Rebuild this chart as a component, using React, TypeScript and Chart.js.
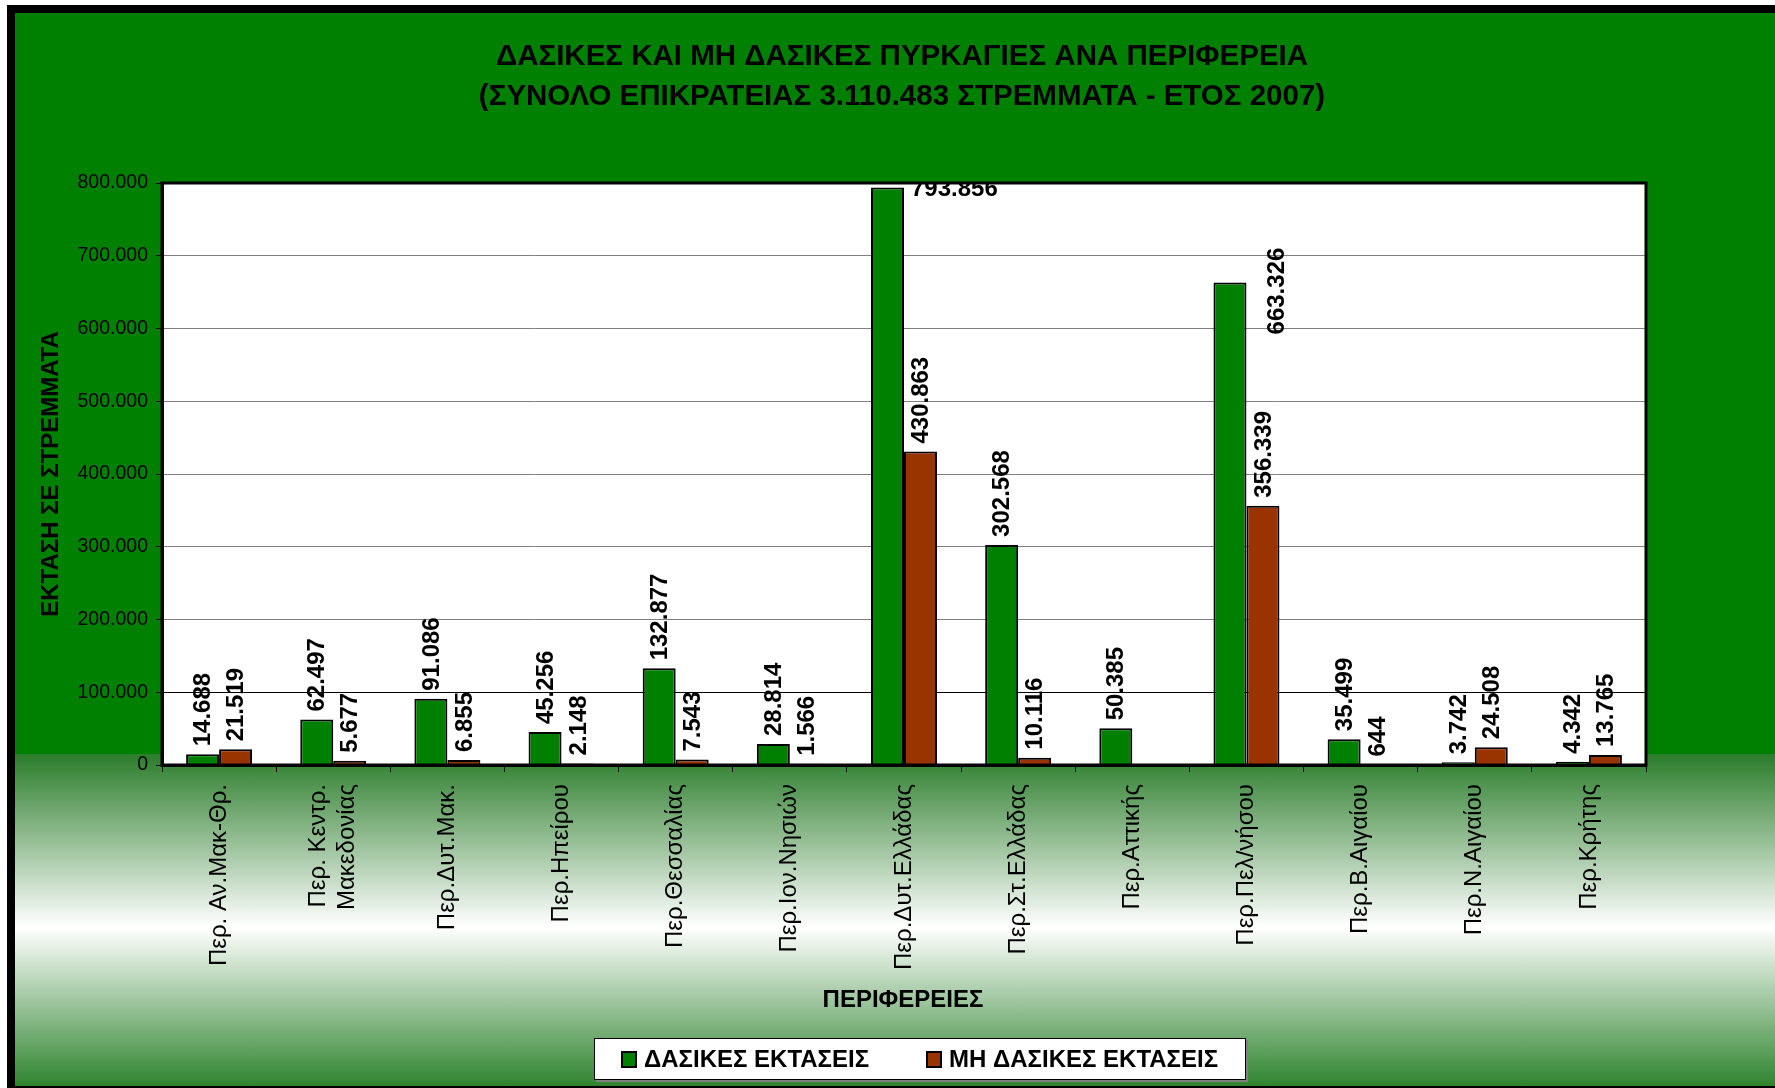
import React, { useEffect, useRef } from 'react';
import { Chart, registerables } from 'chart.js';

Chart.register(...registerables);

const categories: (string | string[])[] = [
  'Περ. Αν.Μακ-Θρ.',
  ['Περ. Κεντρ.', 'Μακεδονίας'],
  'Περ.Δυτ.Μακ.',
  'Περ.Ηπείρου',
  'Περ.Θεσσαλίας',
  'Περ.Ιον.Νησιών',
  'Περ.Δυτ.Ελλάδας',
  'Περ.Στ.Ελλάδας',
  'Περ.Αττικής',
  'Περ.Πελ/νήσου',
  'Περ.Β.Αιγαίου',
  'Περ.Ν.Αιγαίου',
  'Περ.Κρήτης',
];

const forestValues: (number | null)[] = [
  14688, 62497, 91086, 45256, 132877, 28814, 793856, 302568, 50385, 663326, 35499, 3742, 4342,
];
const nonForestValues: (number | null)[] = [
  21519, 5677, 6855, 2148, 7543, 1566, 430863, 10116, null, 356339, 644, 24508, 13765,
];

const seriesNames = ['ΔΑΣΙΚΕΣ ΕΚΤΑΣΕΙΣ', 'ΜΗ ΔΑΣΙΚΕΣ ΕΚΤΑΣΕΙΣ'];
const titleLines = [
  'ΔΑΣΙΚΕΣ ΚΑΙ ΜΗ ΔΑΣΙΚΕΣ ΠΥΡΚΑΓΙΕΣ ΑΝΑ ΠΕΡΙΦΕΡΕΙΑ',
  '(ΣΥΝΟΛΟ ΕΠΙΚΡΑΤΕΙΑΣ 3.110.483 ΣΤΡΕΜΜΑΤΑ - ΕΤΟΣ 2007)',
];
const yAxisTitle = 'ΕΚΤΑΣΗ ΣΕ ΣΤΡΕΜΜΑΤΑ';
const xAxisTitle = 'ΠΕΡΙΦΕΡΕΙΕΣ';
const yMin = 0;
const yMax = 800000;
const yStep = 100000;

const GREEN = '#008000';
const RED = '#993300';
const FONT = '"Liberation Sans", Arial, sans-serif';

const W = 1772;
const H = 1073;

const fmt = (v: number) => String(Math.round(v)).replace(/\B(?=(\d{3})+(?!\d))/g, '.');

// label placement exceptions (style only)
const labelOverrides: Record<string, { mode: 'h' | 'v'; dx: number; dy: number }> = {
  '0-6': { mode: 'h', dx: 7, dy: 2 },
  '0-9': { mode: 'v', dx: 46, dy: 52 },
};

const decorPlugin = {
  id: 'decor',
  beforeDraw(chart: any) {
    const { ctx, chartArea: a } = chart;
    ctx.save();
    ctx.fillStyle = '#ffffff';
    ctx.fillRect(a.left, a.top, a.right - a.left, a.bottom - a.top);
    ctx.restore();
    // center multi-line x labels on their ticks
    try {
      const sx = chart.scales.x;
      const items = sx.getLabelItems(chart.chartArea);
      items.forEach((it: any) => {
        if (Array.isArray(it.label) && it.label.length > 1 && !it._centered) {
          const lh = it.font.lineHeight;
          it.options.translation[0] -= ((it.label.length - 1) * lh) / 2;
          it._centered = true;
        }
      });
    } catch (e) {
      /* ignore */
    }
  },
  afterDatasetsDraw(chart: any) {
    const { ctx, chartArea: a } = chart;
    ctx.save();
    ctx.beginPath();
    ctx.rect(a.left, a.top, a.right - a.left, a.bottom - a.top);
    ctx.clip();
    ctx.font = `bold 24px ${FONT}`;
    ctx.fillStyle = '#000';
    chart.data.datasets.forEach((ds: any, di: number) => {
      const meta = chart.getDatasetMeta(di);
      meta.data.forEach((el: any, i: number) => {
        const v = ds.data[i];
        if (v === null || v === undefined) return;
        const text = fmt(v);
        const ov = labelOverrides[`${di}-${i}`];
        ctx.save();
        if (ov && ov.mode === 'h') {
          ctx.textAlign = 'left';
          ctx.textBaseline = 'middle';
          ctx.fillText(text, el.x + el.width / 2 + ov.dx, el.y + ov.dy);
        } else {
          const dx = ov ? ov.dx : 0;
          const dy = ov ? ov.dy : -8;
          ctx.translate(el.x + dx, el.y + dy);
          ctx.rotate(-Math.PI / 2);
          ctx.textAlign = 'left';
          ctx.textBaseline = 'middle';
          ctx.fillText(text, 0, 1);
        }
        ctx.restore();
      });
    });
    ctx.restore();
  },
  afterDraw(chart: any) {
    const { ctx, chartArea: a } = chart;
    ctx.save();
    // plot frame
    ctx.strokeStyle = '#000';
    ctx.lineWidth = 3;
    ctx.strokeRect(a.left, a.top, a.right - a.left, a.bottom - a.top);

    // title
    ctx.fillStyle = '#000';
    ctx.textAlign = 'center';
    ctx.textBaseline = 'middle';
    ctx.font = `bold 29.5px ${FONT}`;
    ctx.fillText(titleLines[0], 887, 44);
    ctx.fillText(titleLines[1], 887, 84);

    // axis titles
    ctx.font = `bold 24px ${FONT}`;
    ctx.fillText(xAxisTitle, 888, 987);
    ctx.save();
    ctx.translate(36, (a.top + a.bottom) / 2);
    ctx.rotate(-Math.PI / 2);
    ctx.fillText(yAxisTitle, 0, 0);
    ctx.restore();

    // legend
    const lx = 579, ly = 1025, lw = 652, lh = 42;
    ctx.fillStyle = '#808080';
    ctx.fillRect(lx + 2, ly + 2, lw, lh);
    ctx.fillStyle = '#ffffff';
    ctx.fillRect(lx, ly, lw, lh);
    ctx.strokeStyle = '#000';
    ctx.lineWidth = 1;
    ctx.strokeRect(lx + 0.5, ly + 0.5, lw - 1, lh - 1);
    ctx.font = `bold 24px ${FONT}`;
    ctx.textAlign = 'left';
    ctx.textBaseline = 'middle';
    const items = [
      { x: 607, color: GREEN, label: seriesNames[0] },
      { x: 912, color: RED, label: seriesNames[1] },
    ];
    items.forEach((it) => {
      ctx.fillStyle = it.color;
      ctx.fillRect(it.x, 1039, 14, 15);
      ctx.strokeStyle = '#000';
      ctx.lineWidth = 2;
      ctx.strokeRect(it.x, 1039, 14, 15);
      ctx.fillStyle = '#000';
      ctx.fillText(it.label, it.x + 22, 1047);
    });
    ctx.restore();
  },
};

export default function App() {
  const ref = useRef<HTMLCanvasElement>(null);

  useEffect(() => {
    const canvas = ref.current;
    if (!canvas) return;
    const chart = new Chart(canvas, {
      type: 'bar',
      data: {
        labels: categories as any,
        datasets: [
          {
            label: seriesNames[0],
            data: forestValues,
            backgroundColor: GREEN,
            borderColor: '#000',
            borderWidth: 2,
            barPercentage: 1,
            categoryPercentage: 0.578,
          },
          {
            label: seriesNames[1],
            data: nonForestValues,
            backgroundColor: RED,
            borderColor: '#000',
            borderWidth: 2,
            barPercentage: 1,
            categoryPercentage: 0.578,
          },
        ],
      },
      options: {
        responsive: false,
        animation: false,
        devicePixelRatio: 1,
        layout: { padding: { left: 27, top: 170, right: 141, bottom: 61 } },
        plugins: {
          legend: { display: false },
          title: { display: false },
          tooltip: { enabled: false },
        },
        scales: {
          x: {
            grid: {
              display: true,
              drawOnChartArea: false,
              drawTicks: true,
              tickLength: 7,
              tickColor: '#000',
              color: '#000',
              offset: true,
            },
            border: { display: true, color: '#000', width: 3 },
            ticks: {
              color: '#000',
              font: { family: FONT, size: 24, lineHeight: 1.2 },
              maxRotation: 90,
              minRotation: 90,
              autoSkip: false,
              padding: 12,
            },
            afterFit: (s: any) => {
              s.height = 260;
            },
          },
          y: {
            min: yMin,
            max: yMax,
            grid: {
              color: (c: any) => (c.tick && c.tick.value === 100000 ? '#000' : '#808080'),
              lineWidth: 1,
              tickLength: 6,
              tickColor: '#000',
              drawTicks: true,
            },
            border: { display: true, color: '#000', width: 3 },
            ticks: {
              stepSize: yStep,
              color: '#000',
              font: { family: FONT, size: 19.5 },
              padding: 8,
              callback: (v: any) => fmt(Number(v)),
            },
            afterFit: (s: any) => {
              s.width = 120;
            },
          },
        },
      },
      plugins: [decorPlugin],
    } as any);
    return () => chart.destroy();
  }, []);

  return (
    <div
      style={{
        position: 'fixed',
        left: 0,
        top: 0,
        width: '100vw',
        height: '100vh',
        overflow: 'hidden',
        background: '#ffffff',
      }}
    >
      <div
        style={{
          position: 'absolute',
          left: 7,
          top: 5,
          width: W,
          height: H,
          border: '8px solid #000',
          background:
            'linear-gradient(to bottom, #008000 0px, #008000 741px, #2b7d2b 741px, #ffffff 914px, #2f842f 1073px)',
        }}
      >
        <canvas ref={ref} width={W} height={H} style={{ display: 'block', width: W, height: H }} />
      </div>
    </div>
  );
}
